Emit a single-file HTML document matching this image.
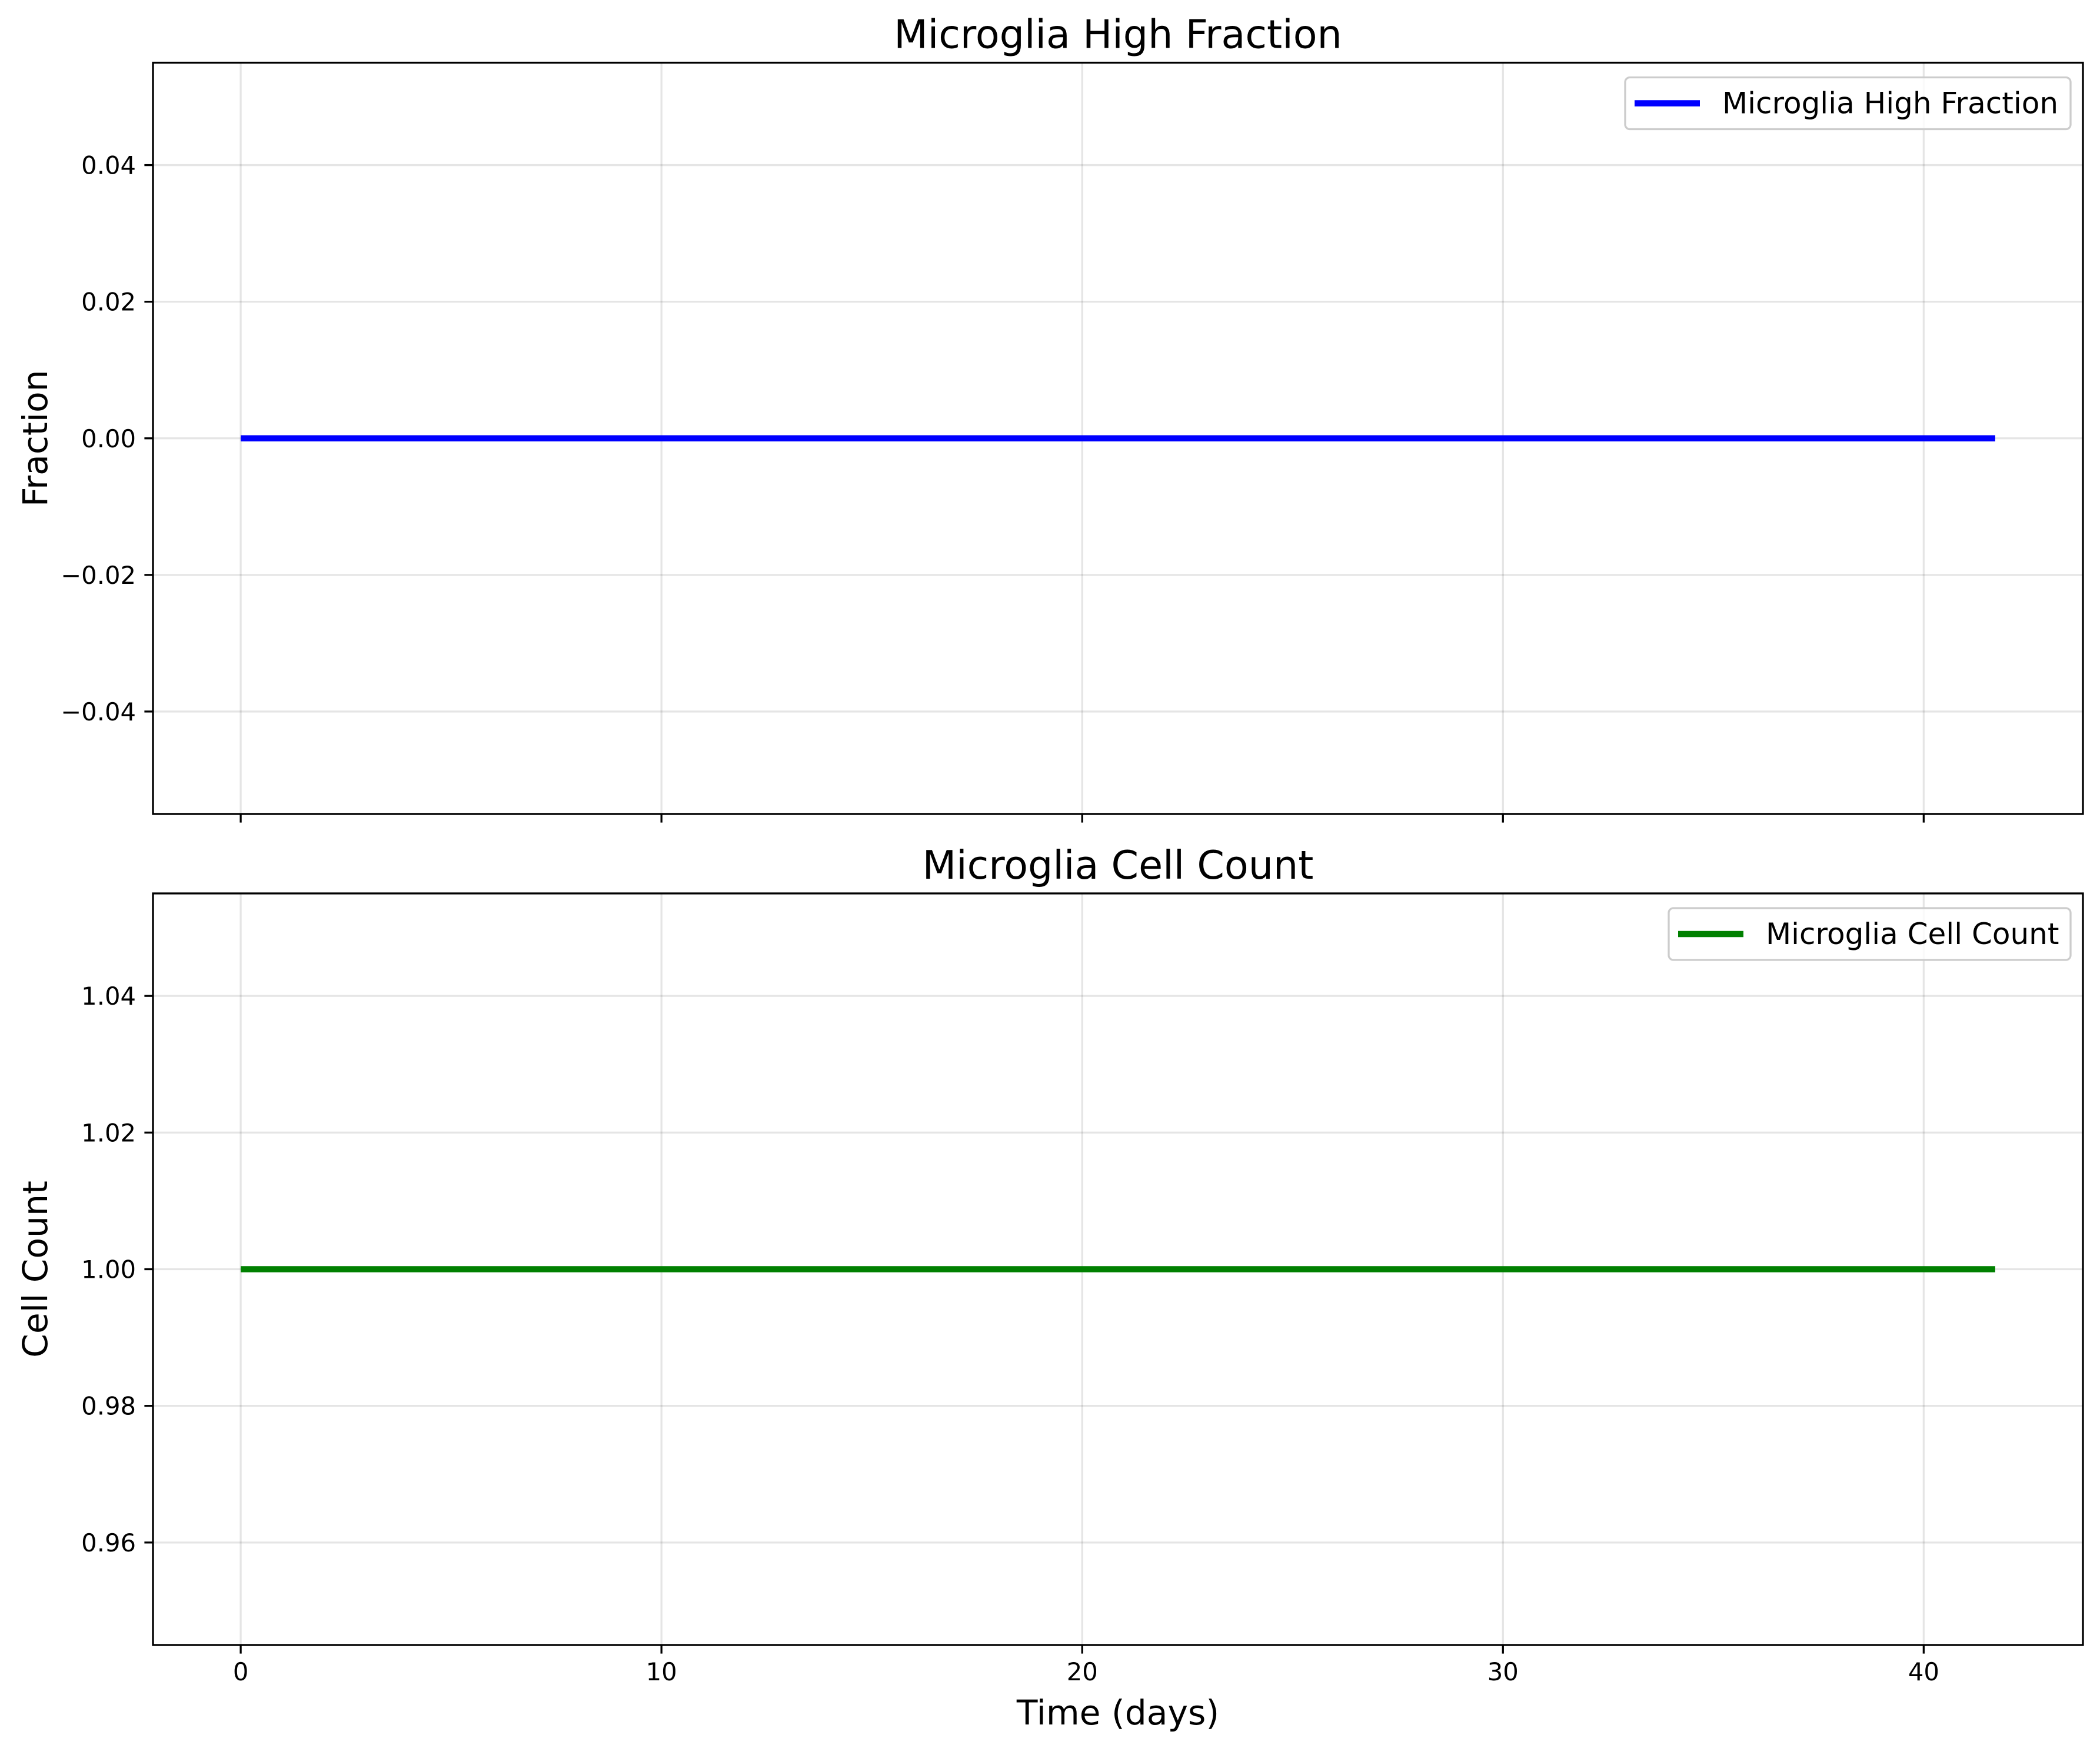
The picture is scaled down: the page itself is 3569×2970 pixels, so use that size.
<!DOCTYPE html>
<html><head><meta charset="utf-8"><style>
html,body{margin:0;padding:0;background:#fff}
svg{display:block;font-family:"DejaVu Sans","Liberation Sans",sans-serif}
</style></head><body>
<svg id="fig" width="3569" height="2970" viewBox="0 0 3569 2970" xmlns="http://www.w3.org/2000/svg"></svg>
<script>
const timeDays = [0, 5, 10, 15, 20, 25, 30, 35, 41.7];
const highFraction = [0, 0, 0, 0, 0, 0, 0, 0, 0];
const cellCount = [1, 1, 1, 1, 1, 1, 1, 1, 1];
const xTicks = [0, 10, 20, 30, 40];
const yTicksTop = [-0.04, -0.02, 0.00, 0.02, 0.04];
const yTicksBottom = [0.96, 0.98, 1.00, 1.02, 1.04];

const NS = "http://www.w3.org/2000/svg";
const svg = document.getElementById('fig');
function mk(tag, attrs, parent){
  const e = document.createElementNS(NS, tag);
  for (const k in attrs) e.setAttribute(k, attrs[k]);
  (parent||svg).appendChild(e);
  return e;
}
const L = 260, R = 3540;
const xmin = -0.05*41.7, xmax = 41.7*1.05;
function xs(v){ return L + (v - xmin)/(xmax - xmin)*(R - L); }
function fmt(v){ return (v<0?'\u2212':'') + Math.abs(v).toFixed(2); }

function panel(cfg){
  const {top, bottom, ymin, ymax, ticks, data, color, title, ylabel, legend, showXLabels, key} = cfg;
  const ys = v => bottom - (v - ymin)/(ymax - ymin)*(bottom - top);
  const g = mk('g', {});
  
  
  xTicks.forEach(t => {
    const l = mk('line', {x1:xs(t), x2:xs(t), y1:top, y2:bottom, stroke:'#000', 'stroke-opacity':0.1, 'stroke-width':3.3}, g);
    
    
  });
  ticks.forEach(t => {
    const l = mk('line', {x1:L, x2:R, y1:ys(t), y2:ys(t), stroke:'#000', 'stroke-opacity':0.1, 'stroke-width':3.3}, g);
    
    
  });
  const pts = timeDays.map((t,i) => xs(t) + ',' + ys(data[i])).join(' ');
  const pl = mk('polyline', {points:pts, fill:'none', stroke:color, 'stroke-width':10.4, 'stroke-linecap':'butt'}, g);
  
  
  const sp = mk('rect', {x:L, y:top, width:R-L, height:bottom-top, fill:'none', stroke:'#000', 'stroke-width':3.3}, g);
  
  
  ticks.forEach(t => {
    mk('line', {x1:L-14.6, x2:L, y1:ys(t), y2:ys(t), stroke:'#000', 'stroke-width':3.3}, g);
    const tx = mk('text', {x:L-29, y:ys(t)+15, 'text-anchor':'end', 'font-size':41.7, fill:'#000'}, g);
    tx.textContent = fmt(t);
    
    
  });
  xTicks.forEach(t => {
    mk('line', {x1:xs(t), x2:xs(t), y1:bottom, y2:bottom+14.6, stroke:'#000', 'stroke-width':3.3}, g);
    if (showXLabels){
      const tx = mk('text', {x:xs(t), y:bottom+60, 'text-anchor':'middle', 'font-size':41.7, fill:'#000'}, g);
      tx.textContent = String(t);
      
      
    }
  });
  const ti = mk('text', {x:(L+R)/2, y:top-25, 'text-anchor':'middle', 'font-size':66.7, fill:'#000'}, g);
  ti.textContent = title;
  
  
  const cy = (top+bottom)/2;
  const yl = mk('text', {x:80, y:cy, 'text-anchor':'middle', 'font-size':58.3, fill:'#000', transform:'rotate(-90 80 '+cy+')'}, g);
  yl.textContent = ylabel;
  
  
  const lw = legend.w, lx = R - 21 - lw, ly = top + 25, lh = 88;
  const lg = mk('g', {}, g);
  
  
  mk('rect', {x:lx, y:ly, width:lw, height:lh, rx:8, fill:'#fff', 'fill-opacity':0.8, stroke:'#ccc', 'stroke-width':3.3}, lg);
  mk('line', {x1:lx+16, x2:lx+127, y1:ly+lh/2, y2:ly+lh/2, stroke:color, 'stroke-width':10.4}, lg);
  const lt = mk('text', {x:lx+165, y:ly+lh/2+17, 'font-size':50, fill:'#000'}, lg);
  lt.textContent = title;
  
  
}

panel({key:'high-fraction', top:106.5, bottom:1383, ymin:-0.055, ymax:0.055, ticks:yTicksTop, data:highFraction, color:'#0000ff', title:'Microglia High Fraction', ylabel:'Fraction', legend:{w:757}, showXLabels:false});
panel({key:'cell-count', top:1518, bottom:2795, ymin:0.945, ymax:1.055, ticks:yTicksBottom, data:cellCount, color:'#008000', title:'Microglia Cell Count', ylabel:'Cell Count', legend:{w:683}, showXLabels:true});

const xl = mk('text', {x:(L+R)/2, y:2930, 'text-anchor':'middle', 'font-size':58.3, fill:'#000'});
xl.textContent = 'Time (days)';


</script>
</body></html>
